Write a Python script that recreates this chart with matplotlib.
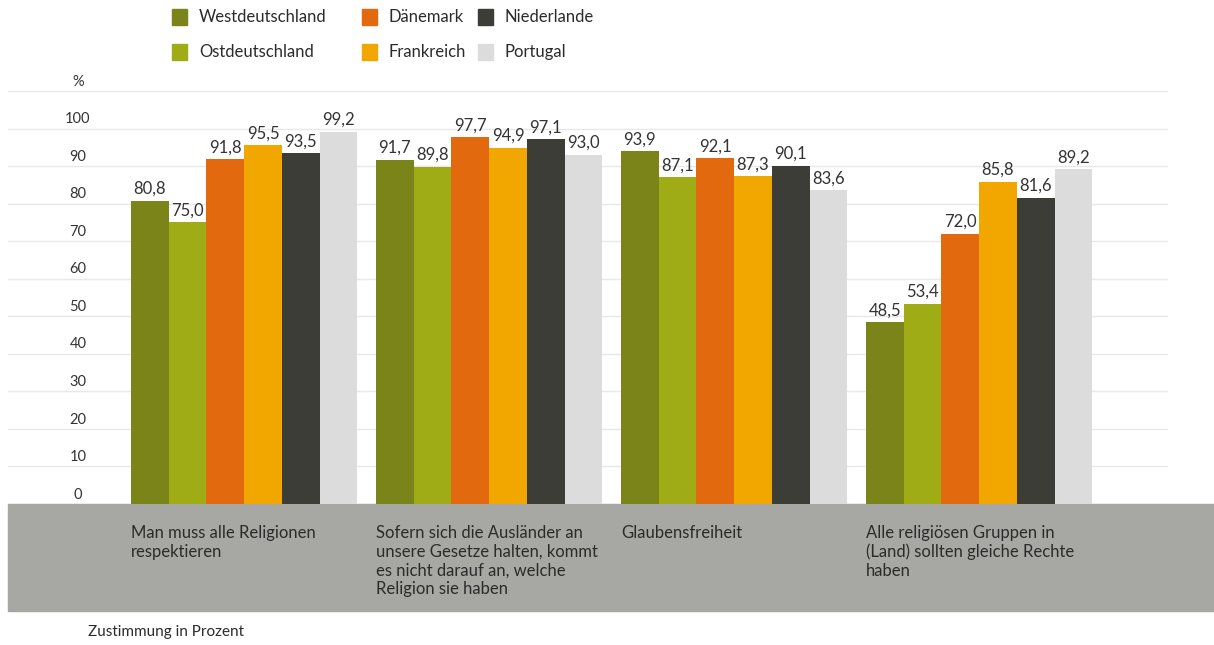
import matplotlib.pyplot as plt
from matplotlib.patches import Rectangle

# data
categories = [
    "Man muss alle Religionen\nrespektieren",
    "Sofern sich die Ausländer an\nunsere Gesetze halten, kommt\nes nicht darauf an, welche\nReligion sie haben",
    "Glaubensfreiheit",
    "Alle religiösen Gruppen in\n(Land) sollten gleiche Rechte\nhaben",
]
countries = ["Westdeutschland", "Ostdeutschland", "Dänemark", "Frankreich", "Niederlande", "Portugal"]
westdeutschland = [80.8, 91.7, 93.9, 48.5]
ostdeutschland = [75.0, 89.8, 87.1, 53.4]
daenemark = [91.8, 97.7, 92.1, 72.0]
frankreich = [95.5, 94.9, 87.3, 85.8]
niederlande = [93.5, 97.1, 90.1, 81.6]
portugal = [99.2, 93.0, 83.6, 89.2]
series = [westdeutschland, ostdeutschland, daenemark, frankreich, niederlande, portugal]
colors = ["#7a8419", "#9fac16", "#e3690f", "#f1a600", "#3d3d38", "#dcdcdc"]
yticks = [0, 10, 20, 30, 40, 50, 60, 70, 80, 90, 100, 110]
yticklabels = ["0", "10", "20", "30", "40", "50", "60", "70", "80", "90", "100", "%"]

plt.rcParams['font.family'] = ['Lato', 'DejaVu Sans']
W, H = 1214, 645
fig = plt.figure(figsize=(W / 100, H / 100), dpi=100)

# axes in pixel coordinates
x0, x1 = 8, 1168
y0, y1 = 504, 91
ax = fig.add_axes([x0 / W, 1 - y0 / H, (x1 - x0) / W, (y0 - y1) / H])
bw_px = 37.7
left = -(131 - x0) / bw_px
ax.set_xlim(left, left + (x1 - x0) / bw_px)
ax.set_ylim(0, 110)
ax.axis("off")

for v, lab in zip(yticks, yticklabels):
    ax.axhline(v, color="#e8e8e8", lw=1, zorder=0)
    ax.text(-(131 - 78) / bw_px, v + 2.5, lab, ha="center", va="center",
            fontsize=10.5, color="#333333")

gstep = 245 / bw_px
for i, (vals, c) in enumerate(zip(series, colors)):
    xs = [g * gstep + i + 0.5 for g in range(len(categories))]
    ax.bar(xs, vals, width=1.0, color=c, zorder=2)
    for x, v in zip(xs, vals):
        ax.text(x, v + 1.0, f"{v:.1f}".replace(".", ","), ha="center", va="bottom",
                fontsize=12, color="#333333")

# gray band with category labels
fig.add_artist(Rectangle((x0 / W, 1 - 611 / H), 1 - x0 / W, 107 / H,
                         transform=fig.transFigure, color="#a7a7a3", zorder=0))
for g, cat in enumerate(categories):
    px = 131 + g * 245
    fig.text(px / W, 1 - 525 / H, cat, ha="left", va="top", fontsize=12,
             color="#2b2b2b", linespacing=1.2)

fig.text(88 / W, 1 - 632 / H, "Zustimmung in Prozent", ha="left", va="center",
         fontsize=11, color="#2b2b2b")

# legend
leg_x = [172, 362, 478]
leg_y = [17, 52]
for k, (name, c) in enumerate(zip(countries, colors)):
    col, row = k // 2, k % 2
    sx, sy = leg_x[col], leg_y[row]
    fig.add_artist(Rectangle((sx / W, 1 - (sy + 7.5) / H), 15 / W, 15 / H,
                             transform=fig.transFigure, color=c))
    fig.text((sx + 27) / W, 1 - sy / H, name, ha="left", va="center",
             fontsize=12, color="#2b2b2b")

fig.savefig("out.png", dpi=100, facecolor="white")
